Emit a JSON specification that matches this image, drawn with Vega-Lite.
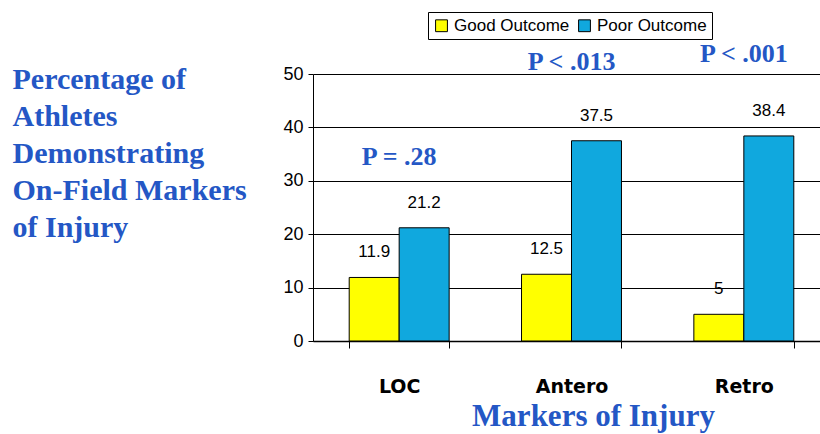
{
  "$schema": "https://vega.github.io/schema/vega-lite/v6.json",
  "width": 517,
  "height": 267,
  "autosize": "none",
  "padding": {"left": 313, "top": 74, "right": 0, "bottom": 93},
  "background": "white",
  "config": {"view": {"stroke": null}},
  "datasets": {
    "bars": [
      {"marker": "LOC", "outcome": "Good Outcome", "value": 11.9},
      {"marker": "LOC", "outcome": "Poor Outcome", "value": 21.2},
      {"marker": "Antero", "outcome": "Good Outcome", "value": 12.5},
      {"marker": "Antero", "outcome": "Poor Outcome", "value": 37.5},
      {"marker": "Retro", "outcome": "Good Outcome", "value": 5},
      {"marker": "Retro", "outcome": "Poor Outcome", "value": 38.4}
    ],
    "pvals": [
      {"marker": "LOC", "label": "P = .28", "value": 34.5},
      {"marker": "Antero", "label": "P < .013", "value": 52.2},
      {"marker": "Retro", "label": "P < .001", "value": 53.7}
    ]
  },
  "encoding": {
    "x": {
      "field": "marker", "type": "nominal", "sort": ["LOC", "Antero", "Retro"],
      "scale": {"paddingInner": 0.42, "paddingOuter": 0.21},
      "axis": {
        "title": "Markers of Injury", "titleFont": "Liberation Serif", "titleFontSize": 31,
        "titleFontWeight": "bold", "titleColor": "#2457C5", "titleX": 280, "titleY": 84,
        "titleBaseline": "alphabetic", "titleAlign": "center", "titleAnchor": null,
        "labelFont": "DejaVu Sans", "labelFontSize": 19, "labelFontWeight": "bold",
        "labelColor": "black", "labelPadding": 29, "labelAngle": 0, "tickBand": "extent",
        "tickSize": 7, "tickColor": "black", "domainColor": "black", "domainWidth": 1.5
      }
    },
    "y": {
      "field": "value", "type": "quantitative", "scale": {"domain": [0, 50]},
      "axis": {
        "values": [0, 10, 20, 30, 40, 50],
        "title": ["Percentage of", "Athletes", "Demonstrating", "On-Field Markers", "of Injury"],
        "titleAngle": 0, "titleAlign": "left", "titleBaseline": "top", "titleX": -301, "titleY": -10,
        "titleFont": "Liberation Serif", "titleFontSize": 30, "titleFontWeight": "bold",
        "titleColor": "#2457C5", "titleLineHeight": 37,
        "labelFont": "Liberation Sans", "labelFontSize": 18, "labelColor": "black",
        "labelPadding": 5, "tickSize": 5, "tickColor": "black", "domainColor": "black",
        "grid": true, "gridColor": "black", "gridWidth": 1
      }
    }
  },
  "layer": [
    {
      "data": {"name": "bars"},
      "mark": {"type": "bar", "stroke": "black", "strokeWidth": 1},
      "encoding": {
        "xOffset": {"field": "outcome", "sort": ["Good Outcome", "Poor Outcome"], "scale": {"paddingInner": 0, "paddingOuter": 0}},
        "color": {
          "field": "outcome", "type": "nominal",
          "scale": {"domain": ["Good Outcome", "Poor Outcome"], "range": ["#FFFF00", "#10A8DE"]},
          "legend": {
            "orient": "none", "legendX": 115, "legendY": -62, "direction": "horizontal",
            "title": null, "strokeColor": "black", "fillColor": "white", "padding": 5,
            "symbolType": "square", "symbolSize": 140, "symbolStrokeColor": "black", "symbolStrokeWidth": 1,
            "labelFont": "Liberation Sans", "labelFontSize": 17, "labelColor": "black",
            "labelOffset": 4, "columnPadding": 6
          }
        }
      }
    },
    {
      "data": {"name": "bars"},
      "mark": {"type": "text", "dy": -20, "baseline": "alphabetic", "font": "Liberation Sans", "fontSize": 17, "color": "black"},
      "encoding": {
        "xOffset": {"field": "outcome", "sort": ["Good Outcome", "Poor Outcome"]},
        "text": {"field": "value", "type": "quantitative"}
      }
    },
    {
      "data": {"name": "pvals"},
      "mark": {"type": "text", "baseline": "middle", "font": "Liberation Serif", "fontSize": 26, "fontWeight": "bold", "color": "#2457C5"},
      "encoding": {
        "text": {"field": "label", "type": "nominal"}
      }
    }
  ]
}
